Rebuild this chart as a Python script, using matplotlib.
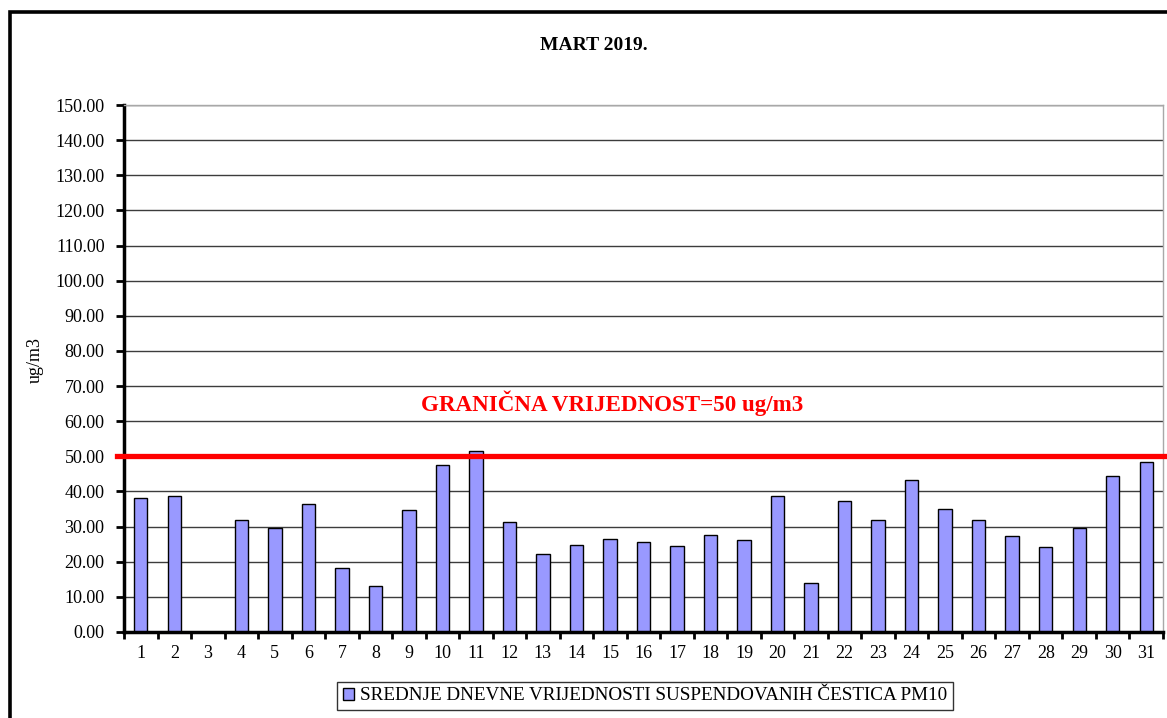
import numpy as np
import matplotlib
matplotlib.use('Agg')
import matplotlib.pyplot as plt
from matplotlib.patches import Rectangle

plt.rcParams['font.family'] = ['Liberation Serif', 'DejaVu Serif']

days = [str(d) for d in range(1, 32)]
pm10 = [38.1, 38.8, 0.0, 31.9, 29.7, 36.4, 18.1, 13.2, 34.7, 47.4,
        51.5, 31.2, 22.2, 24.9, 26.4, 25.7, 24.6, 27.7, 26.1, 38.8,
        13.9, 37.4, 31.9, 43.3, 35.0, 31.9, 27.4, 24.3, 29.6, 44.5,
        48.5]
limit_value = 50
y_ticks = np.arange(0, 151, 10)

series_label = 'SREDNJE DNEVNE VRIJEDNOSTI SUSPENDOVANIH ČESTICA PM10'
limit_label = 'GRANIČNA VRIJEDNOST=50 ug/m3'

W, H = 1167, 718
fig = plt.figure(figsize=(W / 100, H / 100), dpi=100)
ax = fig.add_axes([124 / W, 1 - 632 / H, (1163 - 124) / W, (632 - 105) / H])

x = np.arange(1, len(days) + 1)
bars = ax.bar(x, pm10, width=0.4, color='#9999ff', edgecolor='black',
              linewidth=1.0, zorder=3, label=series_label)

ax.set_xlim(0.5, len(days) + 0.5)
ax.set_ylim(0, 150)
ax.set_yticks(y_ticks)
ax.set_yticklabels(['%.2f' % v for v in y_ticks], fontsize=13)
ax.set_xticks(x)
ax.set_xticklabels(days, fontsize=13)
ax.set_xticks(np.arange(0.5, len(days) + 1), minor=True)
ax.tick_params(axis='x', which='major', length=0, pad=9)
ax.tick_params(axis='x', which='minor', length=5, width=2, direction='out')
ax.tick_params(axis='y', length=6, width=2, direction='out', pad=8)

ax.grid(axis='y', color='#3c3c3c', linewidth=1.0, zorder=0)
ax.spines['left'].set_linewidth(2.5)
ax.spines['bottom'].set_linewidth(2.5)
ax.spines['bottom'].set_zorder(5)
for s in ['top', 'right']:
    ax.spines[s].set_color('#a8a8a8')
    ax.spines[s].set_linewidth(1.0)

# limit line
ax.axhline(limit_value, xmin=-0.007, xmax=1.01, color='#ff0000',
           linewidth=3.8, zorder=4, clip_on=False)
ax.text(15.05, 65.2, limit_label, color='#ff0000', fontsize=16.6,
        fontweight='bold', ha='center', va='center')

fig.text(594 / W, 1 - 45 / H, 'MART 2019.', fontsize=14,
         fontweight='bold', ha='center', va='center')
fig.text(35 / W, 1 - 360 / H, 'ug/m3', rotation=90, fontsize=13,
         ha='center', va='center')

leg = fig.legend(handles=[bars], loc='center',
                 bbox_to_anchor=(645 / W, 1 - 696 / H), fontsize=13.8,
                 frameon=True, fancybox=False, edgecolor='black',
                 handlelength=0.6, handleheight=0.6, handletextpad=0.3,
                 borderpad=0.3)
leg.get_frame().set_linewidth(1.0)

# outer frame of the chart
fig.patches.append(Rectangle((9.5 / W, -0.1), 1.2, 1 - 12 / H + 0.1,
                             transform=fig.transFigure, fill=False,
                             edgecolor='black', linewidth=2.6))

fig.savefig('out.png', dpi=100)
